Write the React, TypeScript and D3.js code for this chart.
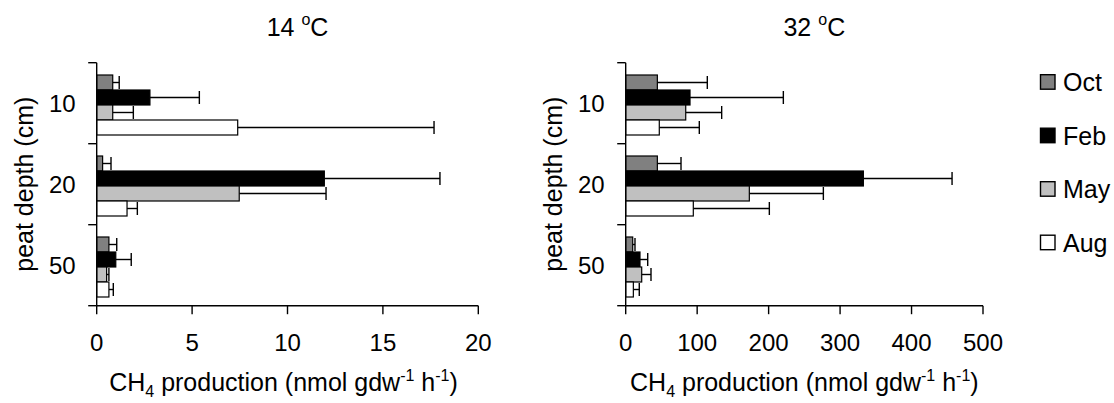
import React from "react";
import * as d3 from "d3";

// peat depth categories and sampling months
const depths = ["10", "20", "50"];
const months = ["Oct", "Feb", "May", "Aug"];

// 14 oC incubation: mean and sd per depth (10, 20, 50 cm)
const oct14 = [0.84, 0.31, 0.64];
const oct14Sd = [0.34, 0.44, 0.41];
const feb14 = [2.79, 11.93, 1.0];
const feb14Sd = [2.59, 6.06, 0.81];
const may14 = [0.84, 7.47, 0.52];
const may14Sd = [1.08, 4.55, 0.12];
const aug14 = [7.39, 1.59, 0.64];
const aug14Sd = [10.29, 0.54, 0.23];

// 32 oC incubation
const oct32 = [44.3, 44.3, 9.8];
const oct32Sd = [69.9, 33.1, 3.2];
const feb32 = [90, 332.6, 20];
const feb32Sd = [130.6, 124.1, 10.8];
const may32 = [84, 173, 22.4];
const may32Sd = [50.3, 103.6, 13];
const aug32 = [47, 94.6, 10.7];
const aug32Sd = [56, 106.4, 8.3];

const ticks14 = [0, 5, 10, 15, 20];
const ticks32 = [0, 100, 200, 300, 400, 500];

const fills: Record<string, string> = { Oct: "#808080", Feb: "#000000", May: "#c0c0c0", Aug: "#ffffff" };
const font = "'Liberation Sans', Arial, Helvetica, sans-serif";

type Row = { depth: string; month: string; value: number; sd: number };

function toRows(series: number[][], sds: number[][]): Row[] {
  const rows: Row[] = [];
  depths.forEach((depth, i) => {
    months.forEach((month, j) => {
      rows.push({ depth, month, value: series[j][i], sd: sds[j][i] });
    });
  });
  return rows;
}

const rows14 = toRows([oct14, feb14, may14, aug14], [oct14Sd, feb14Sd, may14Sd, aug14Sd]);
const rows32 = toRows([oct32, feb32, may32, aug32], [oct32Sd, feb32Sd, may32Sd, aug32Sd]);

const top = 62.7;
const bottom = 305.7;

function XLabel({ x, y }: { x: number; y: number }) {
  return (
    <text x={x} y={y} textAnchor="middle" fontSize={25} fontFamily={font}>
      CH<tspan fontSize={16} dy={6}>4</tspan>
      <tspan dy={-6}> production (nmol gdw</tspan>
      <tspan fontSize={16} dy={-10}>-1</tspan>
      <tspan dy={10}> h</tspan>
      <tspan fontSize={16} dy={-10}>-1</tspan>
      <tspan dy={10}>)</tspan>
    </text>
  );
}

function Panel({ rows, max, ticks, x0, x1, title, labelShift }: {
  rows: Row[]; max: number; ticks: number[]; x0: number; x1: number; title: string; labelShift: number;
}) {
  const x = d3.scaleLinear().domain([0, max]).range([x0, x1]);
  const y = d3.scaleBand<string>().domain(depths).range([top, bottom]);
  const inner = d3.scaleBand<string>().domain(months).range([12.3, 72.3]);
  const bw = inner.bandwidth();
  const bounds = [top, ...depths.map((d) => (y(d) as number) + y.bandwidth())];
  const mid = (x0 + x1) / 2;
  return (
    <g>
      <text x={mid + 10} y={36} textAnchor="middle" fontSize={25} fontFamily={font}>
        {title} <tspan fontSize={16} dy={-11}>o</tspan><tspan dy={11}>C</tspan>
      </text>
      {rows.map((r, i) => {
        const yy = (y(r.depth) as number) + (inner(r.month) as number);
        const xe = x(r.value + r.sd);
        const yc = yy + bw / 2;
        return (
          <g key={i}>
            <line x1={x(r.value)} x2={xe} y1={yc} y2={yc} stroke="#000" strokeWidth={1.4} />
            <line x1={xe} x2={xe} y1={yc - 6.5} y2={yc + 6.5} stroke="#000" strokeWidth={1.4} />
            <rect x={x(0)} y={yy} width={x(r.value) - x(0)} height={bw} fill={fills[r.month]} stroke="#000" strokeWidth={1.2} />
          </g>
        );
      })}
      {/* y axis */}
      <line x1={x0} x2={x0} y1={top} y2={bottom} stroke="#000" strokeWidth={1.4} />
      {bounds.map((b, i) => (
        <line key={i} x1={x0 - 8.5} x2={x0} y1={b} y2={b} stroke="#000" strokeWidth={1.4} />
      ))}
      {depths.map((d) => (
        <text key={d} x={x0 - 21} y={(y(d) as number) + y.bandwidth() / 2} dy="0.36em" textAnchor="end" fontSize={24} fontFamily={font}>
          {d}
        </text>
      ))}
      <text transform={`translate(${x0 - 72},${(top + bottom) / 2}) rotate(-90)`} textAnchor="middle" fontSize={25} fontFamily={font} dy="0.35em">
        peat depth (cm)
      </text>
      {/* x axis */}
      <line x1={x0} x2={x1} y1={bottom} y2={bottom} stroke="#000" strokeWidth={1.4} />
      {ticks.map((t) => (
        <g key={t}>
          <line x1={x(t)} x2={x(t)} y1={bottom} y2={bottom + 8.5} stroke="#000" strokeWidth={1.4} />
          <text x={x(t)} y={351} textAnchor="middle" fontSize={24} fontFamily={font}>{t}</text>
        </g>
      ))}
      <XLabel x={mid + labelShift} y={391} />
    </g>
  );
}

export default function App() {
  const legendY = d3.scalePoint<string>().domain(months).range([82, 242.5]);
  return (
    <svg width={1114} height={403} style={{ position: "absolute", left: 0, top: 0, background: "#fff" }}>
      <rect width={1114} height={403} fill="#fff" />
      <Panel rows={rows14} max={20} ticks={ticks14} x0={96.7} x1={478.3} title="14" labelShift={-4} />
      <Panel rows={rows32} max={500} ticks={ticks32} x0={625.7} x1={983} title="32" labelShift={0} />
      {months.map((m) => (
        <g key={m}>
          <rect x={1040.5} y={(legendY(m) as number) - 7.3} width={14.5} height={14.5} fill={fills[m]} stroke="#000" strokeWidth={1.4} />
          <text x={1063} y={legendY(m) as number} dy="0.36em" fontSize={25} fontFamily={font}>{m}</text>
        </g>
      ))}
    </svg>
  );
}
